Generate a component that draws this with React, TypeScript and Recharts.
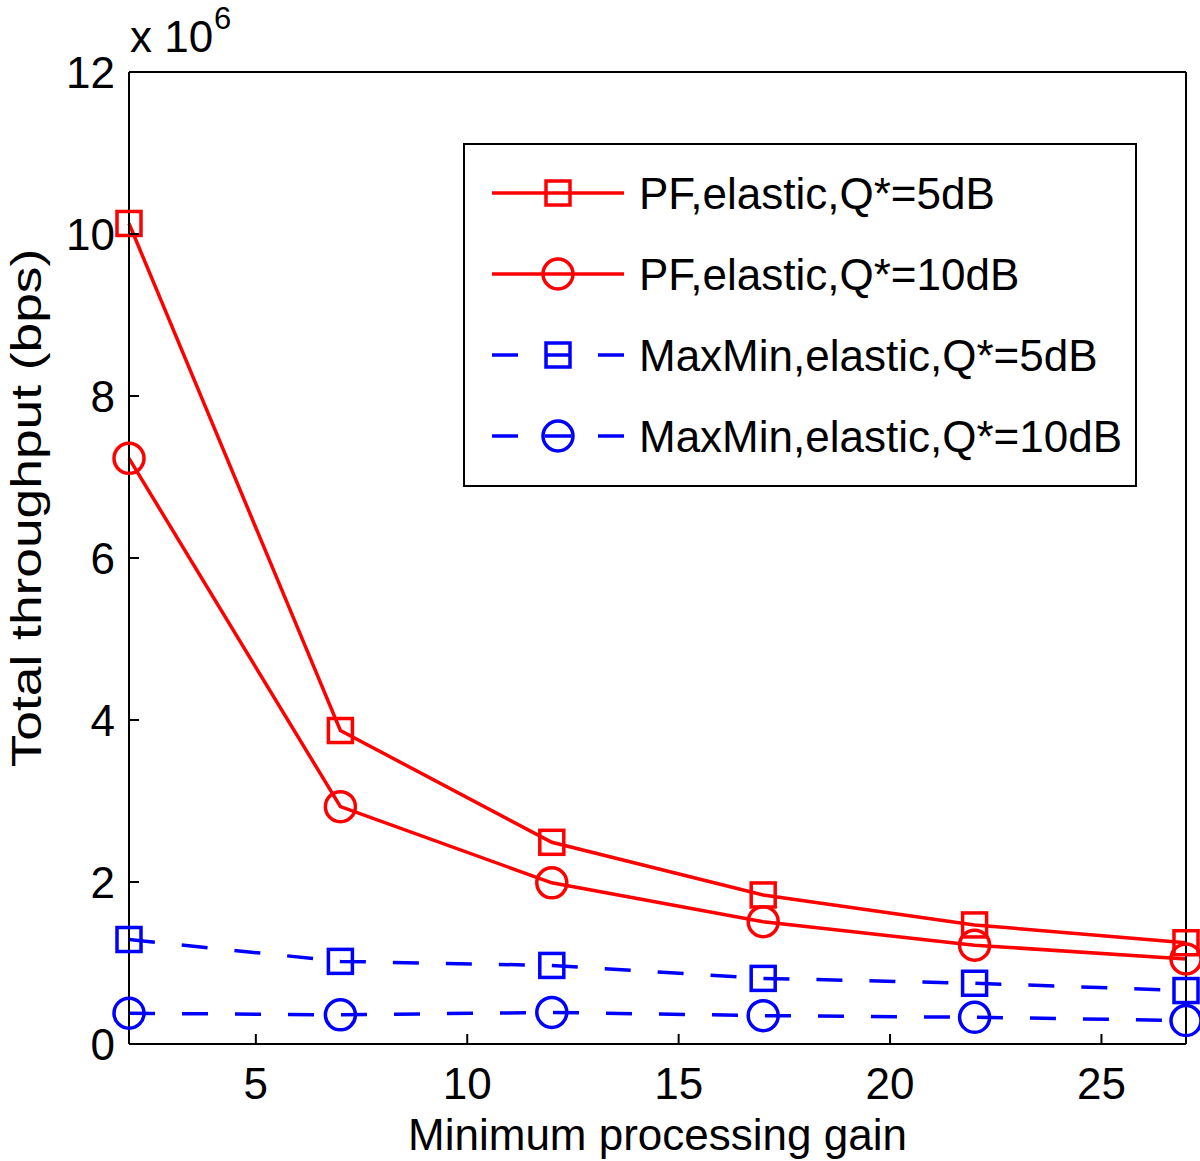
import React from 'react';
import { LineChart, Line, XAxis, YAxis, Legend } from 'recharts';

// ---- data (values in units of 10^6 bps) ----
const gains = [2, 7, 12, 17, 22, 27];
const pf5 = [10.13, 3.87, 2.49, 1.84, 1.47, 1.25];
const pf10 = [7.23, 2.93, 1.99, 1.51, 1.22, 1.05];
const mm5 = [1.29, 1.02, 0.97, 0.81, 0.75, 0.66];
const mm10 = [0.38, 0.36, 0.39, 0.35, 0.33, 0.29];

const xTicks = [5, 10, 15, 20, 25];
const yTicks = [0, 2, 4, 6, 8, 10, 12];

const seriesKeys = ['pf5', 'pf10', 'mm5', 'mm10'];
const seriesNames = [
  'PF,elastic,Q*=5dB',
  'PF,elastic,Q*=10dB',
  'MaxMin,elastic,Q*=5dB',
  'MaxMin,elastic,Q*=10dB',
];
const seriesColors = ['#ff0000', '#ff0000', '#0000ff', '#0000ff'];
const seriesDashed = [false, false, true, true];
const seriesMarkers = ['square', 'circle', 'square', 'circle'];

const data = gains.map((g, i) => ({
  gain: g,
  pf5: pf5[i],
  pf10: pf10[i],
  mm5: mm5[i],
  mm10: mm10[i],
}));

const FONT = '"Liberation Sans", Arial, Helvetica, sans-serif';
const FS = 44;
const DASH = '26 27';

function Marker({ kind, cx, cy, color }: { kind: string; cx: number; cy: number; color: string }) {
  if (kind === 'square') {
    return <rect x={cx - 12} y={cy - 12} width={24} height={24} fill="none" stroke={color} strokeWidth={3.5} />;
  }
  return <circle cx={cx} cy={cy} r={15} fill="none" stroke={color} strokeWidth={3.5} />;
}

const makeDot = (kind: string, color: string) => (props: any) => {
  const { cx, cy, index } = props;
  if (cx == null || cy == null) return <g key={index} />;
  return (
    <g key={index}>
      <Marker kind={kind} cx={cx} cy={cy} color={color} />
    </g>
  );
};

const BottomTick = (props: any) => {
  const { x, y, payload } = props;
  return (
    <g>
      <line x1={x} y1={y} x2={x} y2={y - 10} stroke="#000" strokeWidth={2} />
      <text x={x} y={y + 55} textAnchor="middle" fontSize={FS} fontFamily={FONT} fill="#000">
        {payload.value}
      </text>
    </g>
  );
};

const LeftTick = (props: any) => {
  const { x, y, payload } = props;
  return (
    <g>
      <line x1={x} y1={y} x2={x + 10} y2={y} stroke="#000" strokeWidth={2} />
      <text x={x - 14} y={y + 16} textAnchor="end" fontSize={FS} fontFamily={FONT} fill="#000">
        {payload.value}
      </text>
    </g>
  );
};

const YLabel = (props: any) => {
  const vb = props.viewBox || { x: 29, y: 72, width: 100, height: 972 };
  const bx = vb.x + 12;
  const cy = vb.y + vb.height / 2 - 50;
  const ax = vb.x + vb.width;
  return (
    <g>
      <text
        x={0}
        y={0}
        transform={`translate(${bx} ${cy}) rotate(-90) scale(1.24 1)`}
        textAnchor="middle"
        fontSize={43}
        fontFamily={FONT}
        fill="#000"
      >
        Total throughput (bps)
      </text>
      <text x={ax + 1} y={vb.y - 20} fontSize={FS} fontFamily={FONT} fill="#000">
        x 10
      </text>
      <text x={ax + 85} y={vb.y - 43} fontSize={31} fontFamily={FONT} fill="#000">
        6
      </text>
    </g>
  );
};

const XLabel = (props: any) => {
  const vb = props.viewBox || { x: 129, y: 1044, width: 1057, height: 80 };
  return (
    <text
      x={vb.x + vb.width / 2}
      y={vb.y + 106}
      textAnchor="middle"
      fontSize={FS}
      fontFamily={FONT}
      fill="#000"
    >
      Minimum processing gain
    </text>
  );
};

const LegendBox = () => {
  const W = 674;
  const H = 344;
  return (
    <svg width={W} height={H} style={{ display: 'block' }}>
      <rect x={1} y={1} width={W - 2} height={H - 2} fill="#fff" stroke="#000" strokeWidth={2} />
      {seriesNames.map((name, i) => {
        const cy = 50 + i * 81;
        const color = seriesColors[i];
        return (
          <g key={name}>
            <line
              x1={29}
              y1={cy}
              x2={161}
              y2={cy}
              stroke={color}
              strokeWidth={3.5}
              strokeDasharray={seriesDashed[i] ? DASH : undefined}
            />
            <Marker kind={seriesMarkers[i]} cx={95} cy={cy} color={color} />
            <text x={176} y={cy + 16} fontSize={FS} fontFamily={FONT} fill="#000">
              {name}
            </text>
          </g>
        );
      })}
    </svg>
  );
};

export default function App() {
  return (
    <div style={{ position: 'absolute', left: 0, top: 0, background: '#fff' }}>
      <LineChart
        width={1200}
        height={1161}
        data={data}
        margin={{ top: 72, right: 14, bottom: 37, left: 29 }}
        style={{ background: '#fff' }}
      >
        <XAxis
          dataKey="gain"
          type="number"
          domain={[2, 27]}
          ticks={xTicks}
          height={80}
          tickSize={0}
          tickMargin={0}
          tickLine={false}
          axisLine={{ stroke: '#000', strokeWidth: 2 }}
          tick={<BottomTick />}
          label={<XLabel />}
        />
        <XAxis
          xAxisId="top"
          orientation="top"
          mirror
          type="number"
          domain={[2, 27]}
          ticks={xTicks}
          allowDataOverflow
          tick={false}
          tickSize={10}
          tickLine={{ stroke: '#000', strokeWidth: 2 }}
          axisLine={{ stroke: '#000', strokeWidth: 2 }}
        />
        <YAxis
          type="number"
          domain={[0, 12]}
          ticks={yTicks}
          width={100}
          tickSize={0}
          tickMargin={0}
          tickLine={false}
          axisLine={{ stroke: '#000', strokeWidth: 2 }}
          tick={<LeftTick />}
          label={<YLabel />}
        />
        <YAxis
          yAxisId="right"
          orientation="right"
          mirror
          type="number"
          domain={[0, 12]}
          ticks={yTicks}
          allowDataOverflow
          tick={false}
          tickSize={10}
          tickLine={{ stroke: '#000', strokeWidth: 2 }}
          axisLine={{ stroke: '#000', strokeWidth: 2 }}
        />
        {seriesKeys.map((k, i) => (
          <Line
            key={k}
            dataKey={k}
            name={seriesNames[i]}
            type="linear"
            stroke={seriesColors[i]}
            strokeWidth={3.5}
            strokeDasharray={seriesDashed[i] ? DASH : undefined}
            dot={makeDot(seriesMarkers[i], seriesColors[i])}
            activeDot={false}
            isAnimationActive={false}
          />
        ))}
        <Legend
          layout="vertical"
          align="center"
          verticalAlign="middle"
          width={674}
          height={344}
          wrapperStyle={{ left: 463, top: 143, width: 674, height: 344 }}
          content={<LegendBox />}
        />
      </LineChart>
    </div>
  );
}
